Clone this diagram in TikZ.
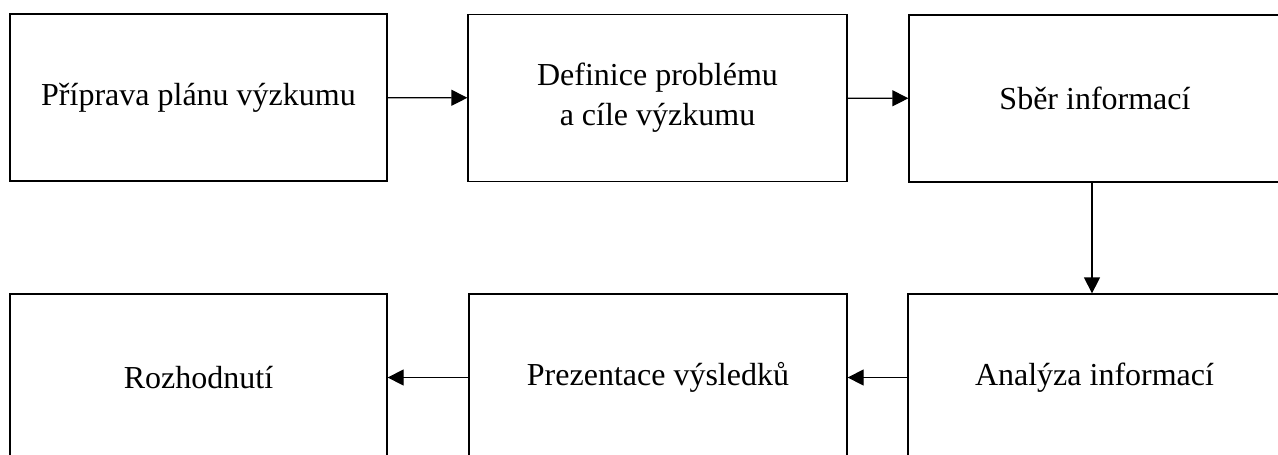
\documentclass[tikz,border=0pt]{standalone}
\usepackage{fontspec}
\setmainfont{Liberation Serif}
\usetikzlibrary{arrows.meta,positioning}
\tikzset{
  blk/.style={draw=black, line width=1.3pt, align=center, inner sep=4pt,
              minimum height=167pt, font=\fontsize{32}{40}\selectfont},
  arrow/.style={-{Triangle[length=16pt, width=16pt]}, draw=black, line width=1.3pt},
}
\begin{document}
\begin{tikzpicture}[x=1pt, y=-1pt]
\path[use as bounding box, fill=white] (0,0) rectangle (1278,455);
\clip (0,0) rectangle (1278,455);
% top row
\node[blk, minimum width=377pt] (plan) at (198.5,97.5) {Příprava plánu výzkumu};
\node[blk, minimum width=379pt] (def) at (657.5,98) {Definice problému\\a cíle výzkumu};
\node[blk, minimum width=372pt] (sber) at (1095,98.5) {Sběr informací};
% bottom row
\node[blk, minimum width=377pt] (rozh) at (198.5,377.5) {Rozhodnutí};
\node[blk, minimum width=378pt] (prez) at (658,377.5) {Prezentace výsledků};
\node[blk, minimum width=373pt] (anal) at (1094.5,377.5) {Analýza informací};

\draw[arrow] (plan) -- (def);
\draw[arrow] (def) -- (sber);
\draw[arrow] ([xshift=-3pt]sber.south) -- ([xshift=-2.5pt]anal.north);
\draw[arrow] (anal) -- (prez);
\draw[arrow] (prez) -- (rozh);
\end{tikzpicture}
\end{document}
